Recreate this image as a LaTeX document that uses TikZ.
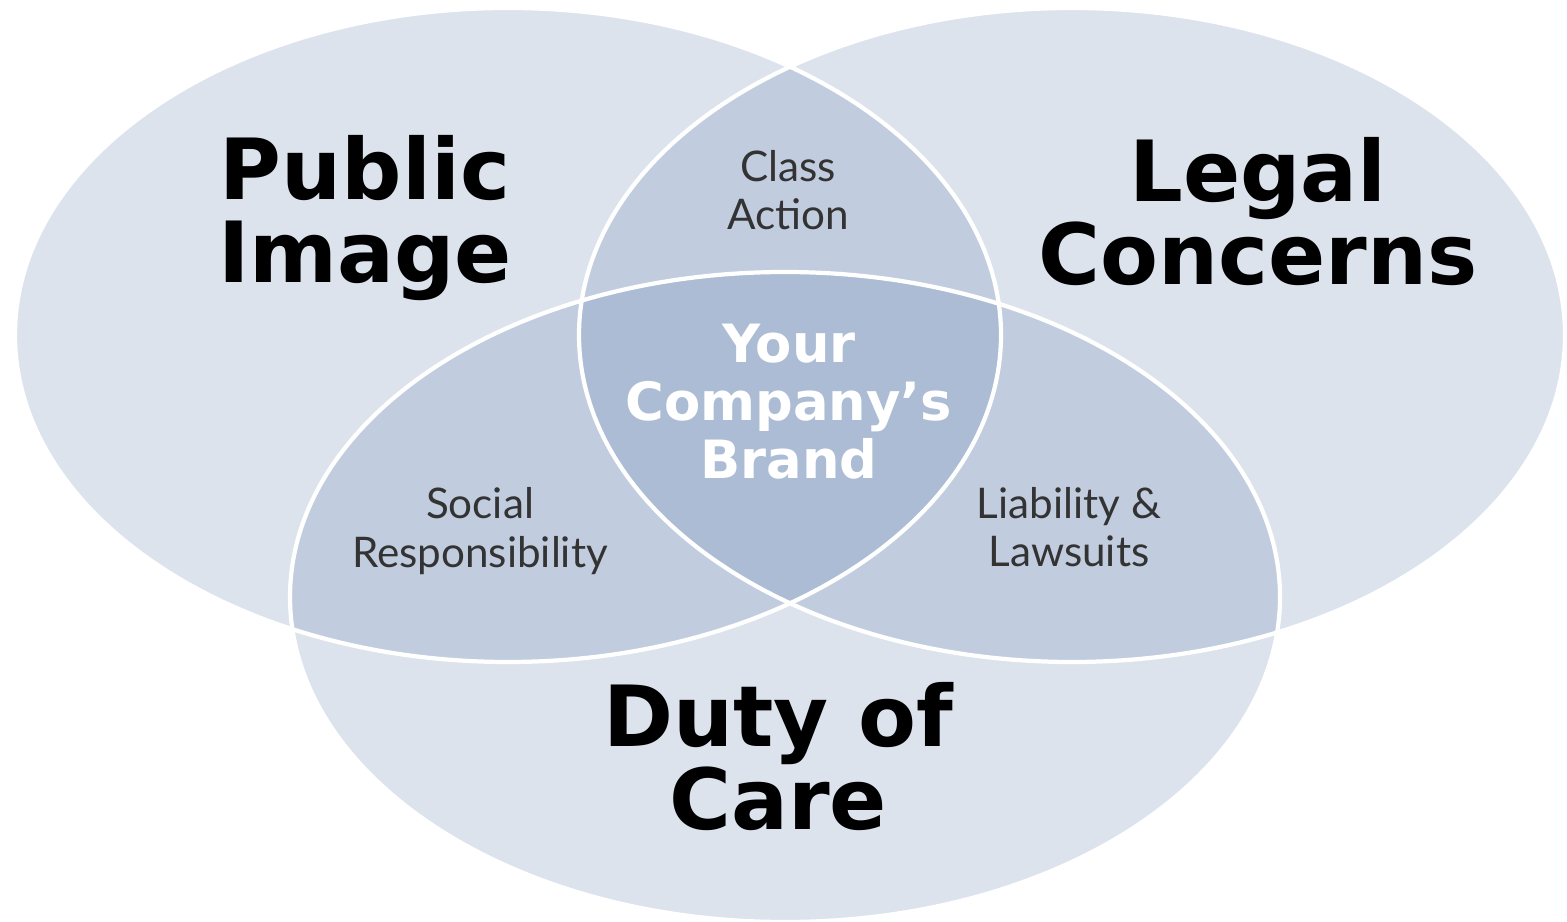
\documentclass[tikz,border=0pt]{standalone}
\usepackage{fontspec}
\setmainfont{Lato}
\newfontfamily\headfont{DejaVu Sans}

\definecolor{vennBlue}{RGB}{102,133,177}
\definecolor{labelGray}{RGB}{51,51,51}

\begin{document}
\begin{tikzpicture}[x=0.01cm, y=-0.01cm]
      \tikzstyle{vennFill} = [fill=vennBlue, fill opacity=0.23]
      \tikzstyle{vennEdge} = [draw=white, line width=1.2pt]
      \tikzstyle{title} = [font=\headfont\bfseries\fontsize{24}{23.6}\selectfont, align=center, text=black, inner sep=0pt]
      \tikzstyle{overlap} = [font=\fontsize{12}{13.7}\selectfont, align=center, text=labelGray, inner sep=0pt]
      \tikzstyle{brand} = [font=\headfont\bfseries\fontsize{15}{16.5}\selectfont, align=center, text=white, inner sep=0pt]

      \useasboundingbox (0,0) rectangle (1567,922);

      \fill[vennFill] (508,335) ellipse [x radius=493, y radius=327];
      \fill[vennFill] (1072,335) ellipse [x radius=493, y radius=327];
      \fill[vennFill] (785,597) ellipse [x radius=495, y radius=325];

      \draw[vennEdge] (508,335) ellipse [x radius=493, y radius=327];
      \draw[vennEdge] (1072,335) ellipse [x radius=493, y radius=327];
      \draw[vennEdge] (785,597) ellipse [x radius=495, y radius=325];

      \node (publicImage) [title] at (365,218) {Public\\Image};
      \node (legalConcerns) [title] at (1258,212) {Legal\\Concerns};
      \node (dutyOfCare) [title] at (778,757) {Duty of\\Care};

      \node (classAction) [overlap] at (788,190) {Class\\Action};
      \node (socialResp) [overlap] at (480,531) {Social\\Responsibility};
      \node (liability) [overlap] at (1069,527) {Liability \&\\Lawsuits};

      \node (companyBrand) [brand] at (789,402) {Your\\Company’s\\Brand};
\end{tikzpicture}
\end{document}
